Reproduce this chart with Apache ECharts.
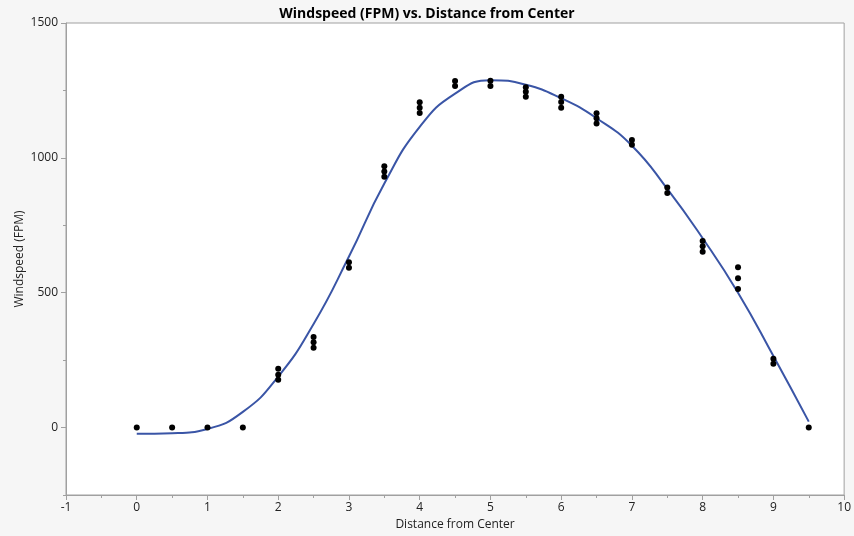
<!DOCTYPE html>
<html>
<head>
<meta charset="utf-8">
<script src="https://cdn.jsdelivr.net/npm/echarts@6/dist/echarts.min.js"></script>
<style>
  html, body { margin: 0; padding: 0; background: #f6f6f6; }
  #chart { width: 854px; height: 536px; }
</style>
</head>
<body>
<div id="chart"></div>
<script>
// measured points (distance, windspeed)
var pointX = [0, 0.5, 1, 1.5,
  2, 2, 2, 2.5, 2.5, 2.5, 3, 3,
  3.5, 3.5, 3.5, 4, 4, 4, 4.5, 4.5, 5, 5,
  5.5, 5.5, 5.5, 6, 6, 6, 6.5, 6.5, 6.5, 7, 7,
  7.5, 7.5, 8, 8, 8, 8.5, 8.5, 8.5, 9, 9, 9.5];
var pointY = [0, 0, 0, 0,
  218, 196, 177, 336, 316, 296, 613, 593,
  969, 949, 930, 1206, 1186, 1166, 1285, 1266, 1286, 1266,
  1262, 1245, 1227, 1227, 1207, 1186, 1165, 1147, 1127, 1066, 1049,
  890, 870, 692, 672, 652, 594, 554, 514, 255, 237, 0];

// fitted curve
var fitX = [0, 0.5, 1, 1.5, 2, 2.5, 3, 3.5, 4, 4.5, 5, 5.5, 6, 6.5, 7, 7.5, 8, 8.5, 9, 9.5];
var fitY = [-23, -21, -5, 58, 189, 384, 634, 905, 1115, 1238, 1288, 1271, 1221, 1147, 1045, 885, 702, 500, 265, 22];

var yLabels = [0, 500, 1000, 1500];

var points = pointX.map(function (x, i) { return [x, pointY[i]]; });
var fit = fitX.map(function (x, i) { return [x, fitY[i]]; });

var font = '"Open Sans", "Noto Sans", sans-serif';
var axisGray = '#a0a0a0';

var chart = echarts.init(document.getElementById('chart'));
chart.setOption({
  backgroundColor: '#f6f6f6',
  animation: false,
  title: {
    text: 'Windspeed (FPM) vs. Distance from Center',
    left: 'center',
    top: 2,
    textStyle: { fontFamily: font, fontSize: 14, fontWeight: 'bold', color: '#000' }
  },
  grid: {
    left: 66, right: 7, top: 23, bottom: 41,
    show: true, backgroundColor: '#fff', borderColor: axisGray, borderWidth: 1
  },
  xAxis: {
    type: 'value',
    min: -1, max: 10, interval: 1,
    name: 'Distance from Center',
    nameLocation: 'middle',
    nameGap: 23,
    nameTextStyle: { fontFamily: font, fontSize: 12, color: '#222' },
    axisLine: { show: true, onZero: false, lineStyle: { color: axisGray } },
    axisTick: { show: true, length: 5, lineStyle: { color: axisGray } },
    minorTick: { show: true, splitNumber: 2, length: 3, lineStyle: { color: axisGray } },
    splitLine: { show: false },
    axisLabel: { fontFamily: font, fontSize: 12, color: '#222', margin: 7, showMinLabel: true, showMaxLabel: true }
  },
  yAxis: [{
    type: 'value',
    min: -250, max: 1500, interval: 250,
    name: 'Windspeed (FPM)',
    nameLocation: 'middle',
    nameGap: 40,
    nameMoveOverlap: false,
    nameTextStyle: { fontFamily: font, fontSize: 12, color: '#222' },
    axisLine: { show: true, onZero: false, lineStyle: { color: axisGray } },
    axisTick: { show: true, length: 3, lineStyle: { color: axisGray } },
    splitLine: { show: false },
    axisLabel: {
      fontFamily: font, fontSize: 12, color: '#222', margin: 8,
      formatter: function (v) { return yLabels.indexOf(v) >= 0 ? String(v) : ''; }
    }
  }, {
    type: 'value',
    position: 'left',
    min: -250, max: 1500, interval: 250,
    axisLine: { show: false, onZero: false },
    axisTick: { show: true, length: 5, customValues: yLabels, lineStyle: { color: axisGray } },
    axisLabel: { show: false },
    splitLine: { show: false }
  }],
  series: [{
    type: 'line',
    data: fit,
    smooth: 0.5,
    showSymbol: false,
    lineStyle: { color: '#3a55a6', width: 2 },
    z: 2
  }, {
    type: 'scatter',
    data: points,
    symbolSize: 6,
    itemStyle: { color: '#000', opacity: 1 },
    z: 3
  }]
});
</script>
</body>
</html>
